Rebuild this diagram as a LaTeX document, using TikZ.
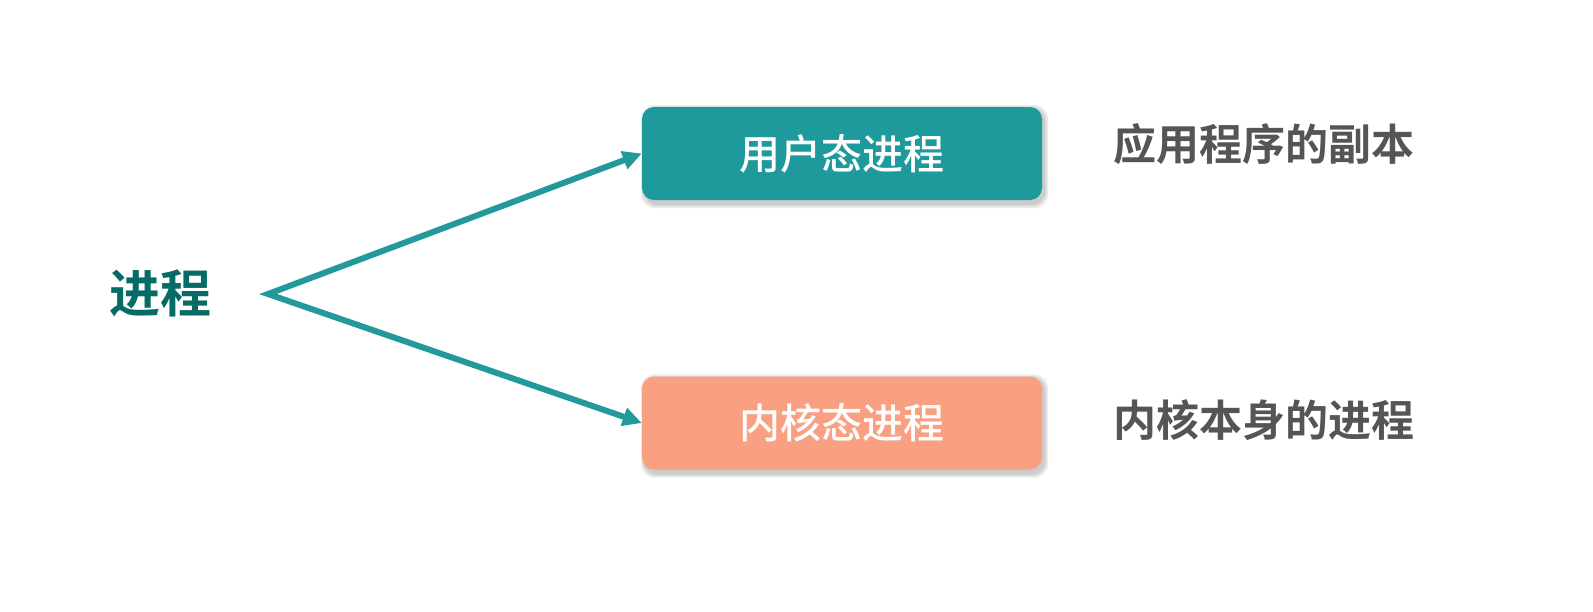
\documentclass[tikz,border=0pt]{standalone}
\usepackage{fontspec}
\setmainfont{Noto Sans CJK SC Medium}
\newfontfamily\cjkbold{Noto Sans CJK SC Bold}
\usetikzlibrary{arrows.meta,backgrounds}
\definecolor{tealbox}{HTML}{1E9A9C}
\definecolor{salmonbox}{HTML}{F9A083}
\definecolor{darkteal}{HTML}{056B64}
\definecolor{arrowteal}{HTML}{229A9B}
\definecolor{graytext}{HTML}{555555}
\tikzset{
  procbox/.style={rounded corners=12pt, minimum width=400pt, minimum height=93pt,
    inner sep=0pt, text=white, font=\fontsize{41}{41}\selectfont},
  softshadow/.style={fill=black, opacity=0.07, rounded corners=14pt},
  desc/.style={text=graytext, font=\cjkbold\fontsize{43}{43}\selectfont, inner sep=0pt},
  branch/.style={draw=arrowteal, line width=6pt, line join=miter,
    {Triangle[length=19pt,width=18pt]}-{Triangle[length=19pt,width=18pt]}}
}
\begin{document}
\begin{tikzpicture}[x=1pt,y=1pt]
\useasboundingbox (0,0) rectangle (1593,-611);
\node[text=darkteal, font=\cjkbold\fontsize{51}{51}\selectfont, inner sep=0pt] (t1) at (160,-293) {进程};
\node[procbox, fill=tealbox] (b1) at (842,-153.5) {用户态进程};
\node[procbox, fill=salmonbox] (b2) at (842,-423) {内核态进程};
\node[desc] (r1) at (1264,-144) {应用程序的副本};
\node[desc] (r2) at (1264,-420) {内核本身的进程};
\coordinate (v) at (268,-294);
\draw[branch] (b1.west) -- (v) -- (b2.west);
\begin{pgfonlayer}{background}
\fill[white] (0,0) rectangle (1593,-611);
\foreach \b in {b1,b2}{
  \foreach \d in {0,1.5,3}{
    \fill[softshadow] ([shift={(2-\d,-5-\d)}]\b.south west) rectangle ([shift={(3+\d,-1+\d)}]\b.north east);
  }
}
\end{pgfonlayer}
\end{tikzpicture}
\end{document}
